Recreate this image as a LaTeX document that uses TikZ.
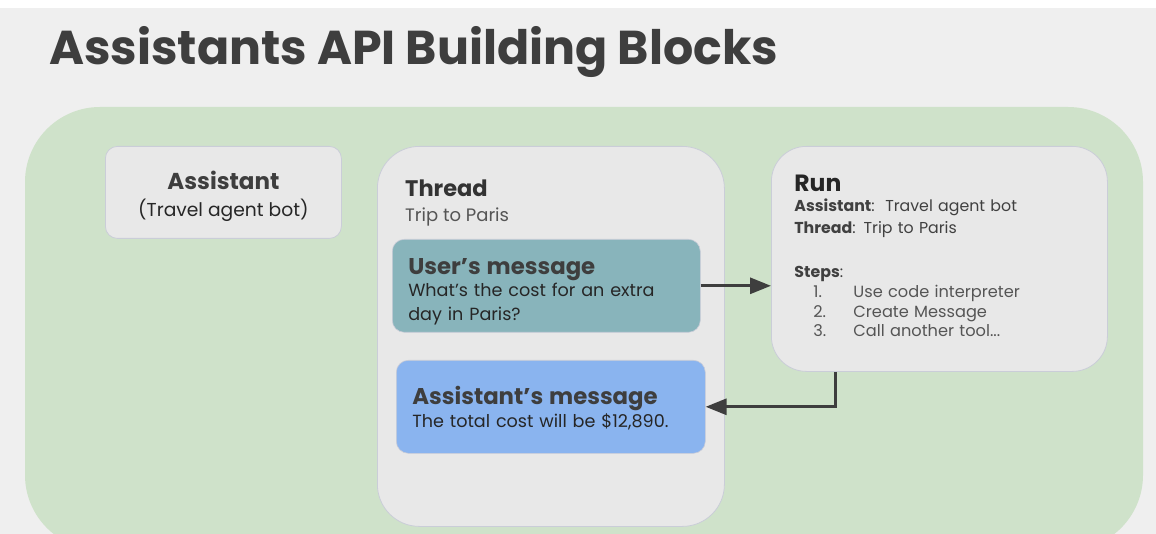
\documentclass[tikz,border=0pt]{standalone}
\usepackage{fontspec}
\setmainfont{Poppins}
\usepackage{xcolor}
\usetikzlibrary{arrows.meta, positioning}

\definecolor{bggray}{HTML}{EFEFEF}
\definecolor{leafgreen}{HTML}{CFE2CA}
\definecolor{boxgray}{HTML}{E8E8E8}
\definecolor{edgegray}{HTML}{CACDD8}
\definecolor{usrteal}{HTML}{88B4BB}
\definecolor{botblue}{HTML}{8AB4EF}
\definecolor{inkgray}{HTML}{3E3E3E}
\definecolor{softgray}{HTML}{555555}

\tikzset{
  panel/.style={draw=edgegray, fill=boxgray, line width=0.8pt, anchor=north west, inner sep=0pt},
  bubble/.style={draw=edgegray, line width=0.6pt, rounded corners=12pt, anchor=north west,
    align=left, inner xsep=16pt, inner ysep=0pt, text=black!85,
    font=\fontsize{17.6}{23.5}\selectfont},
  arr/.style={draw=inkgray, line width=3pt, -{Triangle[length=21pt,width=16pt]}}
}

\begin{document}
\begin{tikzpicture}[x=1pt,y=-1pt]
\useasboundingbox (0,0) rectangle (1156,534);
\fill[bggray] (0,0) rectangle (1156,534);
\fill[white] (0,0) rectangle (1156,8);
% green area
\fill[leafgreen, rounded corners=75pt] (25,107) rectangle (1143,550);

\node[anchor=base west, inner sep=0pt, text=inkgray, font=\fontsize{47.5}{52}\selectfont\bfseries] (title) at (49,65) {Assistants API Building Blocks};

% assistant
\node[panel, rounded corners=12pt, minimum width=236pt, minimum height=92pt, align=center,
  font=\fontsize{18.7}{27}\selectfont, text=black!85] (asst) at (105,146)
  {\rule{0pt}{26pt}{\fontsize{23}{27}\selectfont\bfseries\color{inkgray} Assistant}\\
   (Travel agent bot)};

% thread
\node[panel, rounded corners=42pt, minimum width=347pt, minimum height=380pt] (thread) at (377,146) {};
\node[anchor=north west, align=left, inner sep=0pt, font=\fontsize{18}{25}\selectfont, text=softgray] (threadtitle) at (405,180)
  {{\fontsize{22.5}{25}\selectfont\bfseries\color{black!80} Thread}\\
   Trip to Paris};

\node[bubble, fill=usrteal, minimum width=308pt, minimum height=93pt, text width=276pt] (usr) at (392,239)
  {\rule{0pt}{27pt}{\fontsize{22.8}{24}\selectfont\bfseries\color{inkgray} User’s message}\\[-1pt]
   What’s the cost for an extra\\ day in Paris?};

\node[bubble, fill=botblue, minimum width=309pt, minimum height=93pt, text width=277pt] (bot) at (396,360)
  {\rule{0pt}{21pt}{\fontsize{22.8}{24}\selectfont\bfseries\color{inkgray} Assistant’s message}\\
   The total cost will be \$12,890.};

% run
\node[panel, rounded corners=35pt, minimum width=336pt, minimum height=225pt, align=left,
  text width=290pt, inner xsep=23pt, font=\fontsize{15.8}{22}\selectfont, text=black!75] (run) at (771,146)
  {{\fontsize{23.5}{24}\selectfont\bfseries\color{black!85} Run}\\[-2pt]
   {\bfseries Assistant}:\ \ Travel agent bot\\
   {\bfseries Thread}: Trip to Paris\\[22pt]
   {\bfseries Steps}:\\[-2pt]
   \color{softgray}\fontsize{16.2}{22}\selectfont\hspace*{19pt}\makebox[40pt][l]{1.}Use code interpreter\\[-2.5pt]
   \hspace*{19pt}\makebox[40pt][l]{2.}Create Message\\[-2.5pt]
   \hspace*{19pt}\makebox[40pt][l]{3.}Call another tool...\rule[-6pt]{0pt}{6pt}};

\draw[arr] (usr.east) -- (usr.east -| run.west);
\draw[arr] ([xshift=-104pt]run.south) |- (bot.east);
\end{tikzpicture}
\end{document}
